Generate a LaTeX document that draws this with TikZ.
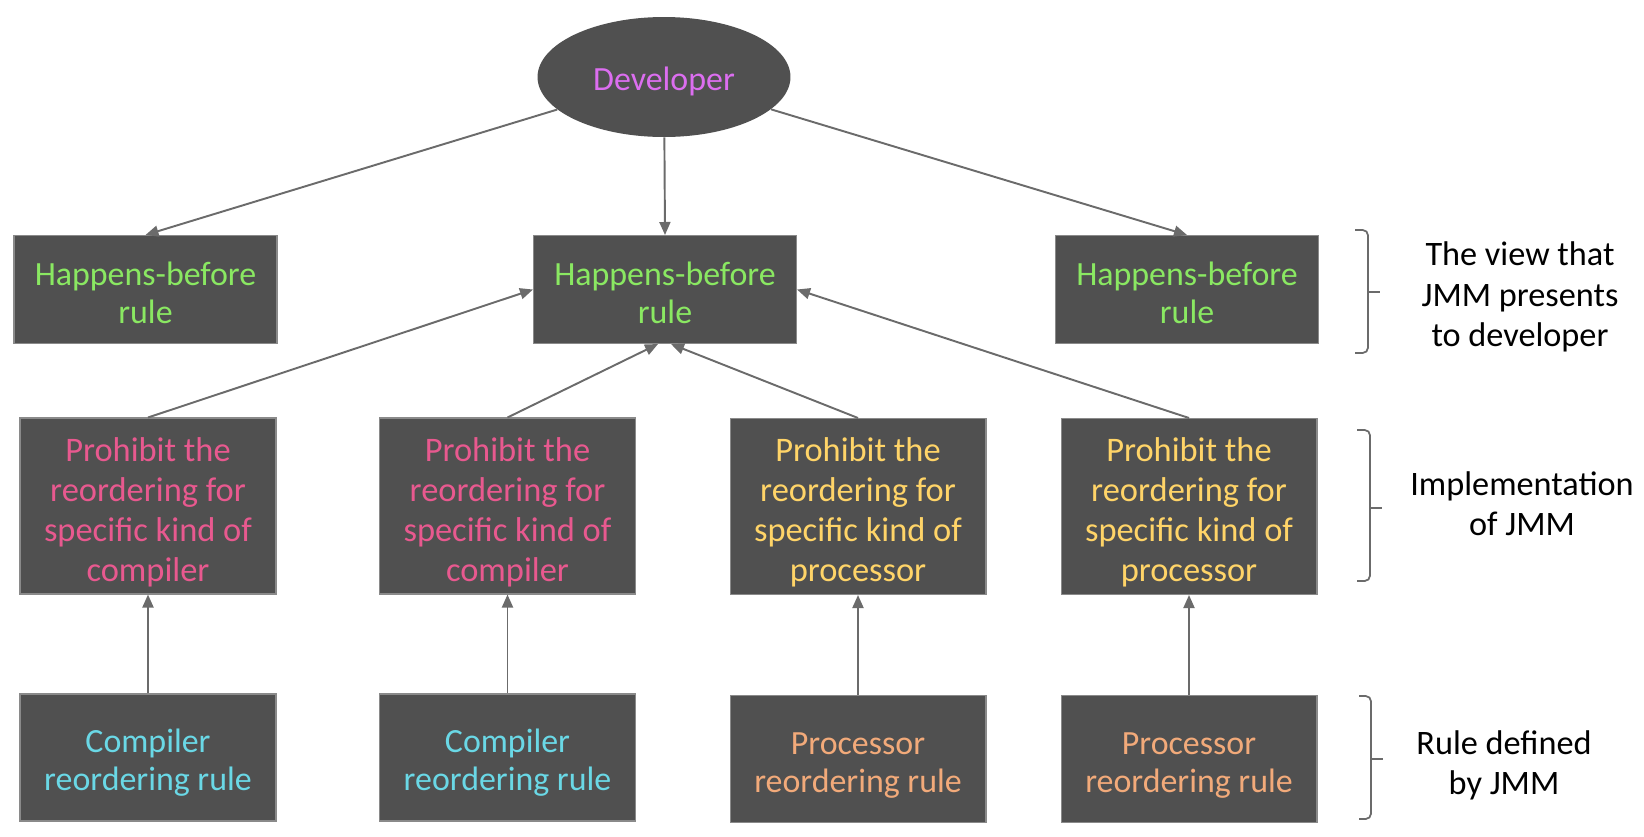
\documentclass[tikz,border=0pt]{standalone}
\usepackage{fontspec}
\setmainfont{Carlito}
\usepackage{tikz}
\usetikzlibrary{arrows.meta,shapes.geometric}

\definecolor{boxgray}{HTML}{505050}
\definecolor{boxedge}{HTML}{8A8A8A}
\definecolor{linkgray}{HTML}{6B6B6B}
\definecolor{devviolet}{HTML}{DC6EF0}
\definecolor{hbgreen}{HTML}{8AE862}
\definecolor{cmppink}{HTML}{E8598F}
\definecolor{procyellow}{HTML}{FFD468}
\definecolor{cmpcyan}{HTML}{6AD8E6}
\definecolor{procorange}{HTML}{F2AA7A}

% strut that pushes a box's text a little down
\newcommand\toppad[1]{\rule{0pt}{#1em}}

\begin{document}
\begin{tikzpicture}[x=0.02cm, y=-0.02cm,
    every node/.style={font=\fontsize{19.3}{21.6}\selectfont, align=center},
    box/.style={rectangle, fill=boxgray, draw=boxedge, line width=0.6pt, inner sep=0pt},
    hbbox/.style={box, minimum width=5.26cm, minimum height=2.16cm, text=hbgreen},
    prohibit/.style={box, minimum width=5.12cm, minimum height=3.52cm,
        font=\fontsize{19.6}{22.8}\selectfont},
    rulebox/.style={box, minimum width=5.12cm, minimum height=2.54cm},
    link/.style={draw=linkgray, line width=1.1pt, -{Triangle[length=0.26cm, width=0.22cm]}},
    bracket/.style={draw=linkgray, line width=1pt, rounded corners=3pt},
    note/.style={text=black, font=\fontsize{19.5}{22.9}\selectfont}]
    \useasboundingbox (0,0) rectangle (1644,836);

    % Developer
    \node[ellipse, fill=boxgray, inner sep=0pt, minimum width=5.06cm, minimum height=2.4cm,
        text=devviolet] (dev) at (664,77) {\toppad{0.95}Developer};

    % Happens-before row
    \node[hbbox] (hb1) at (145.5,289.5) {\toppad{0.88}Happens-before\\rule};
    \node[hbbox] (hb2) at (665,289.5) {\toppad{0.88}Happens-before\\rule};
    \node[hbbox] (hb3) at (1187,289.5) {\toppad{0.88}Happens-before\\rule};

    % Implementation row
    \node[prohibit, text=cmppink] (pc1) at (148,506) {\toppad{1.05}Prohibit the\\reordering for\\specific kind of\\compiler};
    \node[prohibit, text=cmppink] (pc2) at (507.5,506) {\toppad{1.05}Prohibit the\\reordering for\\specific kind of\\compiler};
    \node[prohibit, text=procyellow] (pp1) at (858,506.5) {\toppad{1.05}Prohibit the\\reordering for\\specific kind of\\processor};
    \node[prohibit, text=procyellow] (pp2) at (1189,506.5) {\toppad{1.05}Prohibit the\\reordering for\\specific kind of\\processor};

    % Rule row
    \node[rulebox, text=cmpcyan] (cr1) at (148,757.5) {\toppad{1.0}Compiler\\reordering rule};
    \node[rulebox, text=cmpcyan] (cr2) at (507.5,757.5) {\toppad{1.0}Compiler\\reordering rule};
    \node[rulebox, text=procorange] (pr1) at (858,759) {\toppad{1.0}Processor\\reordering rule};
    \node[rulebox, text=procorange] (pr2) at (1189,759) {\toppad{1.0}Processor\\reordering rule};

    % Arrows
    \draw[link] (dev) -- (hb1.north);
    \draw[link] (dev) -- (hb2.north);
    \draw[link] (dev) -- (hb3.north);
    \draw[link] (pc1.north) -- (hb2.west);
    \draw[link] (pc2.north) -- ([xshift=-0.14cm]hb2.south);
    \draw[link] (pp1.north) -- ([xshift=0.12cm]hb2.south);
    \draw[link] (pp2.north) -- (hb2.east);
    \draw[link] (cr1) -- (pc1);
    \draw[link] (cr2) -- (pc2);
    \draw[link] (pr1) -- (pp1);
    \draw[link] (pr2) -- (pp2);

    % Brackets
    \draw[bracket] (1355,230) -- (1368,230) -- (1368,353) -- (1355,353);
    \draw[bracket] (1368,292) -- (1380,292);
    \draw[bracket] (1357,430) -- (1370,430) -- (1370,581) -- (1357,581);
    \draw[bracket] (1370,508) -- (1382,508);
    \draw[bracket] (1359,696) -- (1371,696) -- (1371,819) -- (1359,819);
    \draw[bracket] (1371,759) -- (1383,759);

    % Notes
    \node[note] (view) at (1520,297) {The view that\\JMM presents\\to developer};
    \node[note] (impl) at (1522,504) {Implementation\\of JMM};
    \node[note] (ruledef) at (1504,765) {Rule defined\\by JMM};
\end{tikzpicture}
\end{document}
